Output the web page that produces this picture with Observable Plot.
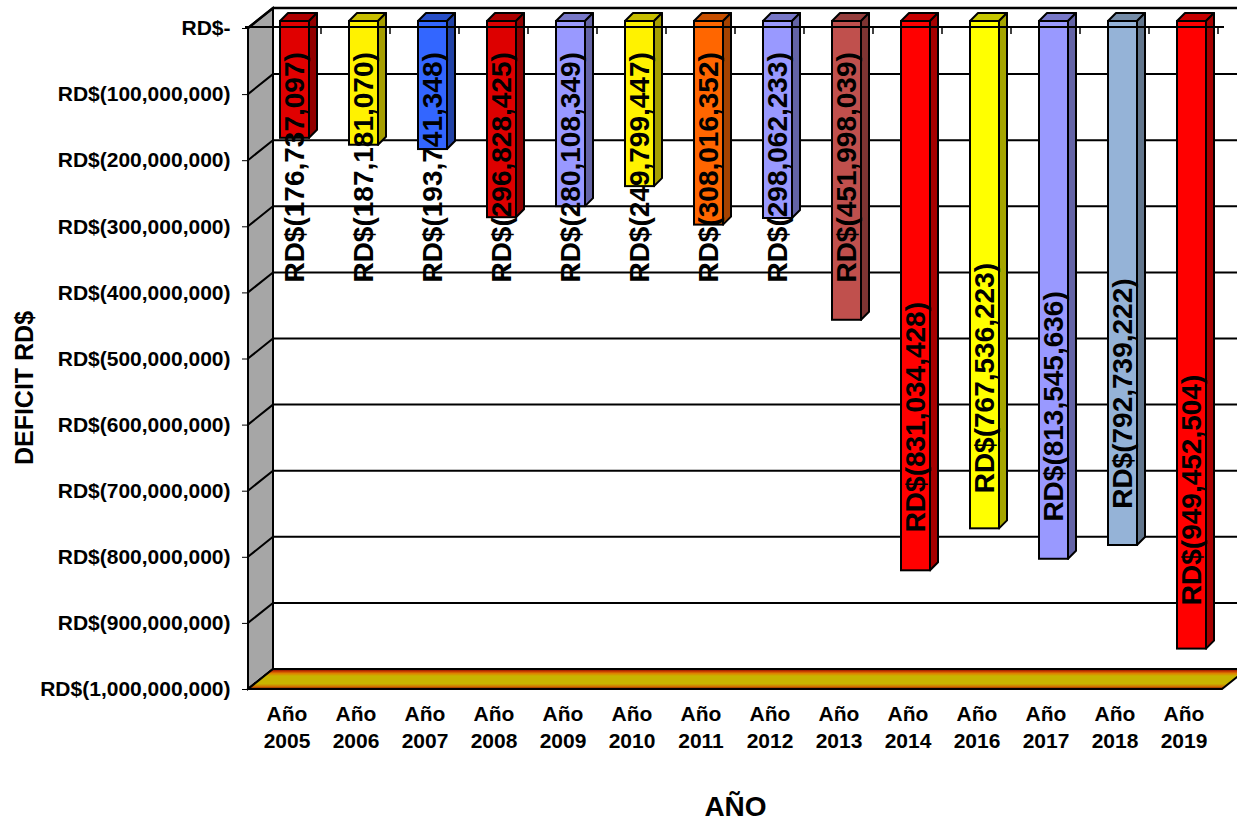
<!DOCTYPE html>
<html>
<head>
<meta charset="utf-8">
<script src="https://cdn.jsdelivr.net/npm/d3@7"></script>
<script src="https://cdn.jsdelivr.net/npm/@observablehq/plot@0.6"></script>
<style>
  html, body { margin: 0; padding: 0; background: #fff; }
  #chart svg { display: block; }
</style>
</head>
<body>
<div id="chart"></div>
<script>
// Déficit anual (RD$) por año
const years = ["2005", "2006", "2007", "2008", "2009", "2010", "2011", "2012", "2013", "2014", "2016", "2017", "2018", "2019"];
const deficits = [
  -176737097, -187181070, -193741348, -296828425, -280108349, -249799447, -308016352,
  -298062233, -451998039, -831034428, -767536223, -813545636, -792739222, -949452504
];
const barColors = [
  "#E00000", "#FFF200", "#3366FF", "#DD0000", "#9999FF", "#FFF200", "#FF6600",
  "#9999FF", "#C0504D", "#FF0000", "#FFFF00", "#9999FF", "#95B3D7", "#FF0000"
];
const yTicks = [0, -1e8, -2e8, -3e8, -4e8, -5e8, -6e8, -7e8, -8e8, -9e8, -1e9];

const categories = years.map(y => "Año " + y);
const rows = categories.map((c, i) => ({cat: c, value: deficits[i], color: barColors[i]}));

const FONT = "'Liberation Sans', Arial, Helvetica, sans-serif";
// pseudo-3D geometry (pixels)
const WALL_DX = 25, WALL_DY = -20;   // depth of the side wall / floor
const BAR_DX = 8, BAR_DY = -7;       // bars sit part way into the depth
const BAR_DEPTH = 8;                 // thickness of each bar's top and side faces

const money = v => v === 0 ? "RD$-" : `RD$(${d3.format(",")(Math.abs(v))})`;

// label placement: short bars share a common baseline, long ones sit near their end
const labelAnchor = v => v <= -6e8 ? v * 0.93 : -3.95e8;

function bandOf(x) {
  const step = x(categories[1]) - x(categories[0]);
  const bw = typeof x.bandwidth === "function" ? x.bandwidth() : (x.bandwidth ?? step * 0.42);
  return {step, bw};
}

// side wall, back-wall gridlines and floor
function walls(index, scales, values, dims) {
  const {x, y} = scales;
  const L = dims.marginLeft, R = dims.width - dims.marginRight;
  const top = y(yTicks[0]), bottom = y(yTicks[yTicks.length - 1]);
  const g = d3.create("svg:g");
  const defs = g.append("defs");
  const grad = defs.append("linearGradient").attr("id", "floor-grad")
    .attr("x1", 0).attr("y1", 0).attr("x2", 0).attr("y2", 1);
  [[0, "#6B0A00"], [0.1, "#C03000"], [0.22, "#E08000"], [0.35, "#C8B400"],
   [0.74, "#C8B400"], [0.88, "#D07000"], [1, "#7A1000"]].forEach(([o, c]) =>
    grad.append("stop").attr("offset", o).attr("stop-color", c));

  // gray side wall
  g.append("path")
    .attr("d", `M${L},${top}L${L + WALL_DX},${top + WALL_DY}L${L + WALL_DX},${bottom + WALL_DY}L${L},${bottom}Z`)
    .attr("fill", "#A6A6A6").attr("stroke", "black").attr("stroke-width", 2);

  // gridlines: diagonal across the side wall, then along the back wall
  for (const t of yTicks) {
    const yy = y(t);
    g.append("path")
      .attr("d", `M${L},${yy}L${L + WALL_DX},${yy + WALL_DY}L${dims.width + 40},${yy + WALL_DY}`)
      .attr("fill", "none").attr("stroke", "black").attr("stroke-width", t === 0 ? 2.6 : 2);
  }

  // floor
  g.append("path")
    .attr("d", `M${L},${bottom}L${L + WALL_DX},${bottom + WALL_DY}L${R + WALL_DX},${bottom + WALL_DY}L${R},${bottom}Z`)
    .attr("fill", "url(#floor-grad)").attr("stroke", "black").attr("stroke-width", 2);

  // front vertical edge
  g.append("line").attr("x1", L).attr("x2", L).attr("y1", top).attr("y2", bottom)
    .attr("stroke", "black").attr("stroke-width", 2);
  return g.node();
}

// top and side faces of every bar
function barFaces(index, scales) {
  const {x, y} = scales;
  const {bw} = bandOf(x);
  const g = d3.create("svg:g").attr("stroke", "black").attr("stroke-width", 2).attr("stroke-linejoin", "round");
  for (const d of rows) {
    const x0 = x(d.cat) + BAR_DX, x1 = x0 + bw;
    const yt = y(0) + BAR_DY, yb = y(d.value) + BAR_DY;
    const c = d3.color(d.color);
    g.append("path")
      .attr("d", `M${x0},${yt}L${x1},${yt}L${x1 + BAR_DEPTH},${yt - BAR_DEPTH}L${x0 + BAR_DEPTH},${yt - BAR_DEPTH}Z`)
      .attr("fill", c.darker(0.7).formatHex());
    g.append("path")
      .attr("d", `M${x1},${yt}L${x1 + BAR_DEPTH},${yt - BAR_DEPTH}L${x1 + BAR_DEPTH},${yb - BAR_DEPTH}L${x1},${yb}Z`)
      .attr("fill", c.darker(1.2).formatHex());
  }
  return g.node();
}

// front top edge with category separators
function frontEdge(index, scales, values, dims) {
  const {x, y} = scales;
  const {step, bw} = bandOf(x);
  const L = dims.marginLeft, R = dims.width - dims.marginRight;
  const y0 = y(0) - 1;
  const g = d3.create("svg:g").attr("stroke", "black").attr("stroke-width", 2);
  g.append("line").attr("x1", L - 3).attr("x2", R + 2).attr("y1", y0).attr("y2", y0);
  for (const c of categories) {
    const xb = x(c) + bw + (step - bw) / 2;
    g.append("line").attr("x1", xb).attr("x2", xb).attr("y1", y0).attr("y2", y0 + 7).attr("stroke-width", 1.5);
  }
  return g.node();
}

const chart = Plot.plot({
  width: 1237,
  height: 821,
  marginLeft: 248,
  marginRight: 15,
  marginTop: 28,
  marginBottom: 132,
  style: {fontFamily: FONT, fontSize: "21px", fontWeight: "bold", color: "black", background: "white"},
  x: {domain: categories, paddingInner: 0.58, paddingOuter: 0.29, axis: null},
  y: {domain: [-1e9, 0], ticks: yTicks, tickFormat: money, tickSize: 6, tickPadding: 12, label: null},
  color: {type: "identity"},
  marks: [
    walls,
    Plot.barY(rows, {x: "cat", y: "value", fill: "color", stroke: "black", strokeWidth: 2, dx: BAR_DX, dy: BAR_DY}),
    barFaces,
    frontEdge,
    Plot.text(rows, {
      x: "cat", y: d => labelAnchor(d.value), text: d => money(d.value),
      rotate: -90, textAnchor: "start", lineAnchor: "middle", dx: BAR_DX, dy: BAR_DY,
      fontSize: 28, fontWeight: "bold", fill: "black"
    }),
    Plot.text(categories, {
      x: d => d, text: d => d.replace(" ", "\n"), frameAnchor: "bottom",
      textAnchor: "middle", lineAnchor: "top", lineHeight: 1.3, dy: 12,
      fontSize: 21, fontWeight: "bold", fill: "black"
    }),
    Plot.text(["DEFICIT RD$"], {
      text: d => d, frameAnchor: "left", rotate: -90, textAnchor: "middle", lineAnchor: "middle",
      dx: -224, dy: 29, fontSize: 25, fontWeight: "bold", fill: "black"
    }),
    Plot.text(["AÑO"], {
      text: d => d, frameAnchor: "bottom", textAnchor: "middle", lineAnchor: "middle", dy: 118,
      fontSize: 28, fontWeight: "bold", fill: "black"
    })
  ]
});

document.getElementById("chart").appendChild(chart);
</script>
</body>
</html>
